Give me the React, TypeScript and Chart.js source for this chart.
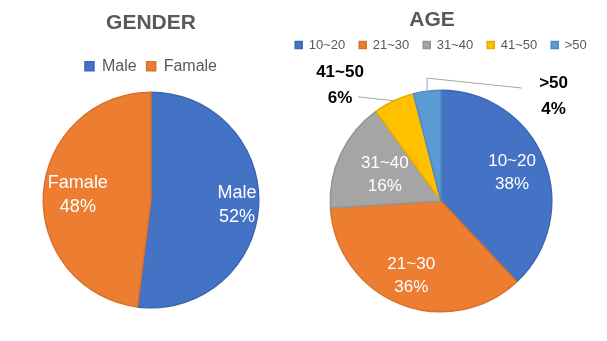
import React, { useEffect, useRef } from "react";
import { Chart, registerables, layouts } from "chart.js";

Chart.register(...registerables);

const FONT = "'Liberation Sans', Arial, sans-serif";

// ---- data ----
const genderLabels = ["Male", "Famale"];
const genderValues = [52, 48];
const ageLabels = ["10~20", "21~30", "31~40", "41~50", ">50"];
const ageValues = [38, 36, 16, 6, 4];

// ---- styles ----
const genderColors = ["#4472C4", "#ED7D31"];
const genderBorders = ["#3C66B2", "#D8712B"];
const ageColors = ["#4472C4", "#ED7D31", "#A5A5A5", "#FFC000", "#5B9BD5"];
const ageBorders = ["#3C66B2", "#D8712B", "#959595", "#E6AD00", "#4F8AC2"];

type Placement = {
  dist: number;
  outside?: boolean;
  angle?: number;
  elbow?: number;
  endDx?: number;
  endDy?: number;
};

const genderPlacement: Placement[] = [{ dist: 0.8 }, { dist: 0.68 }];
const agePlacement: Placement[] = [
  { dist: 0.69 },
  { dist: 0.73 },
  { dist: 0.56 },
  { outside: true, angle: 319, dist: 1.39, elbow: 0, endDx: 18, endDy: 12 },
  { outside: true, angle: 47, dist: 1.39, elbow: 13, endDx: -32, endDy: -8 },
];

type LabelCfg = {
  placement: Placement[];
  insideFont: string;
  insideGap: number;
  outsideFont: string;
  outsideGap: number;
};

function makeLabelPlugin(cfg: LabelCfg) {
  return {
    id: "pieLabels",
    afterDatasetsDraw(chart: any) {
      const ctx = chart.ctx as CanvasRenderingContext2D;
      const meta = chart.getDatasetMeta(0);
      const values = chart.data.datasets[0].data as number[];
      const total = values.reduce((a, b) => a + b, 0);
      const labels = chart.data.labels as string[];
      ctx.save();
      meta.data.forEach((el: any, i: number) => {
        const { x, y, startAngle, endAngle, outerRadius } = el.getProps(
          ["x", "y", "startAngle", "endAngle", "outerRadius"],
          true
        );
        const mid = (startAngle + endAngle) / 2;
        const p = cfg.placement[i];
        const pct = Math.round((values[i] / total) * 100) + "%";
        let lx: number, ly: number, gap: number;
        if (p.outside) {
          const a = ((p.angle as number) * Math.PI) / 180 - Math.PI / 2;
          lx = x + Math.cos(a) * outerRadius * p.dist;
          ly = y + Math.sin(a) * outerRadius * p.dist;
          const ex = x + Math.cos(mid) * outerRadius;
          const ey = y + Math.sin(mid) * outerRadius;
          ctx.beginPath();
          ctx.strokeStyle = "#A6A6A6";
          ctx.lineWidth = 1;
          ctx.moveTo(ex, ey);
          if (p.elbow) ctx.lineTo(ex, ey - p.elbow);
          ctx.lineTo(lx + (p.endDx || 0), ly + (p.endDy || 0));
          ctx.stroke();
          ctx.fillStyle = "#000000";
          ctx.font = cfg.outsideFont;
          gap = cfg.outsideGap;
        } else {
          lx = x + Math.cos(mid) * outerRadius * p.dist;
          ly = y + Math.sin(mid) * outerRadius * p.dist;
          ctx.fillStyle = "#FFFFFF";
          ctx.font = cfg.insideFont;
          gap = cfg.insideGap;
        }
        ctx.textAlign = "center";
        ctx.textBaseline = "middle";
        ctx.fillText(labels[i], lx, ly - gap / 2);
        ctx.fillText(pct, lx, ly + gap / 2);
      });
      ctx.restore();
    },
  };
}

type SpacerDef = { position: string; size: number; weight: number };

function makeSpacerPlugin(defs: SpacerDef[]) {
  return {
    id: "spacers",
    beforeInit(chart: any) {
      defs.forEach((d) => {
        const box: any = {
          position: d.position,
          weight: d.weight,
          fullSize: false,
          options: {},
          left: 0,
          top: 0,
          right: 0,
          bottom: 0,
          width: 0,
          height: 0,
          isHorizontal() {
            return d.position === "top" || d.position === "bottom";
          },
          update(maxWidth: number, maxHeight: number) {
            if (this.isHorizontal()) {
              this.width = maxWidth;
              this.height = d.size;
            } else {
              this.width = d.size;
              this.height = maxHeight;
            }
          },
          draw() {},
        };
        layouts.addBox(chart, box);
      });
    },
  };
}

function PieBlock(props: {
  left: number;
  width: number;
  labels: string[];
  values: number[];
  colors: string[];
  borders: string[];
  title: string;
  titlePadding: { top: number; bottom: number };
  legendFontSize: number;
  legendBox: number;
  legendPadding: number;
  legendFullSize: boolean;
  layoutPadding: { left: number; right: number; top: number; bottom: number };
  spacers: SpacerDef[];
  labelCfg: LabelCfg;
}) {
  const ref = useRef<HTMLCanvasElement | null>(null);
  useEffect(() => {
    if (!ref.current) return;
    const chart = new Chart(ref.current, {
      type: "pie",
      data: {
        labels: props.labels,
        datasets: [
          {
            data: props.values,
            backgroundColor: props.colors,
            borderColor: props.borders,
            borderWidth: 1.5,
          },
        ],
      },
      options: {
        animation: false,
        responsive: false,
        layout: { padding: props.layoutPadding },
        plugins: {
          tooltip: { enabled: false },
          title: {
            display: true,
            text: props.title,
            color: "#595959",
            font: { family: FONT, size: 21, weight: "bold", lineHeight: 1.2 },
            padding: props.titlePadding,
          },
          legend: {
            display: true,
            position: "top",
            fullSize: props.legendFullSize,
            labels: {
              color: "#595959",
              font: { family: FONT, size: props.legendFontSize },
              boxWidth: props.legendBox,
              boxHeight: props.legendBox,
              padding: props.legendPadding,
            },
          },
        },
      },
      plugins: [makeSpacerPlugin(props.spacers), makeLabelPlugin(props.labelCfg)],
    } as any);
    return () => chart.destroy();
  }, []);
  return (
    <canvas
      ref={ref}
      width={props.width}
      height={341}
      style={{ position: "absolute", left: props.left, top: 0, width: props.width, height: 341 }}
    />
  );
}

export default function App() {
  return (
    <div
      style={{
        position: "fixed",
        left: 0,
        top: 0,
        width: 607,
        height: 341,
        background: "#FFFFFF",
        overflow: "hidden",
      }}
    >
      <PieBlock
        left={0}
        width={304}
        labels={genderLabels}
        values={genderValues}
        colors={genderColors}
        borders={genderBorders}
        title="GENDER"
        titlePadding={{ top: 11, bottom: 12 }}
        legendFontSize={16}
        legendBox={9}
        legendPadding={10}
        legendFullSize={true}
        layoutPadding={{ left: 42.5, right: 44.5, top: 0, bottom: 25.2 }}
        spacers={[]}
        labelCfg={{
          placement: genderPlacement,
          insideFont: `18px ${FONT}`,
          insideGap: 24,
          outsideFont: `bold 17px ${FONT}`,
          outsideGap: 26,
        }}
      />
      <PieBlock
        left={252}
        width={360}
        labels={ageLabels}
        values={ageValues}
        colors={ageColors}
        borders={ageBorders}
        title="AGE"
        titlePadding={{ top: 8, bottom: -8.7 }}
        legendFontSize={13}
        legendBox={7}
        legendPadding={14}
        legendFullSize={false}
        layoutPadding={{ left: 0, right: 0, top: 0, bottom: 28.5 }}
        spacers={[
          { position: "left", size: 18, weight: 0 },
          { position: "top", size: 28, weight: 500 },
        ]}
        labelCfg={{
          placement: agePlacement,
          insideFont: `17px ${FONT}`,
          insideGap: 23,
          outsideFont: `bold 17px ${FONT}`,
          outsideGap: 26,
        }}
      />
    </div>
  );
}
